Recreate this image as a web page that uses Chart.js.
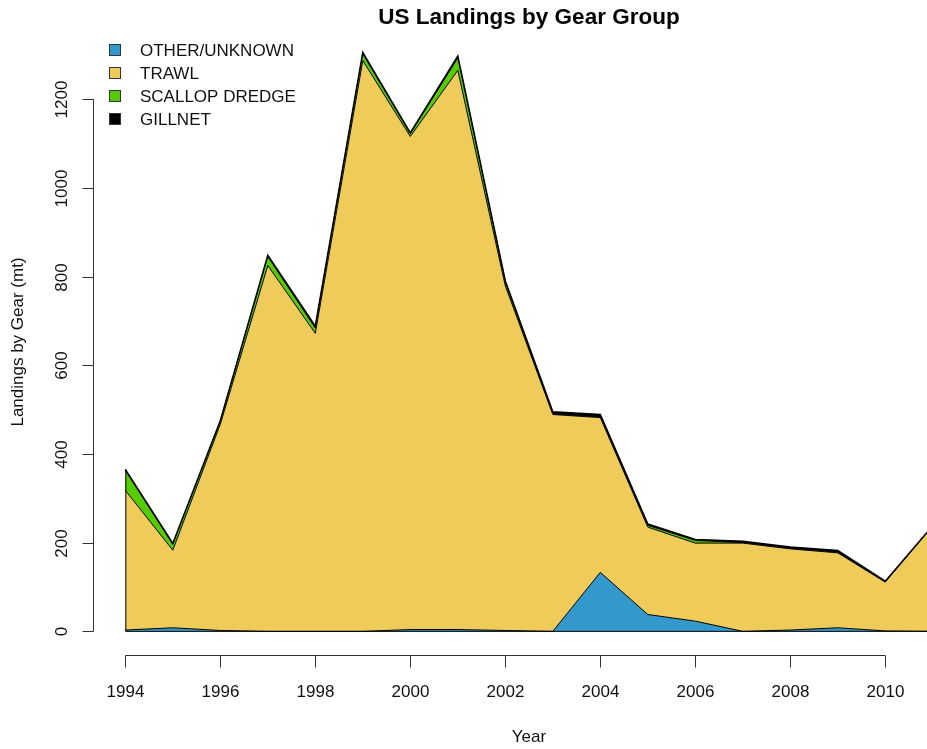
<!DOCTYPE html>
<html>
<head>
<meta charset="utf-8">
<script src="https://cdn.jsdelivr.net/npm/chart.js@4/dist/chart.umd.min.js"></script>
<style>
  html, body { margin: 0; padding: 0; background: #ffffff; }
  #wrap { width: 927px; height: 749px; position: relative; }
</style>
</head>
<body>
<div id="wrap"><canvas id="c" width="927" height="749"></canvas></div>
<script>
// ---- data ----
const years   = [1994,1995,1996,1997,1998,1999,2000,2001,2002,2003,2004,2005,2006,2007,2008,2009,2010,2011];
const other   = [3, 8, 2, 0, 0, 0, 4, 4, 2, 0, 133, 38, 23, 0, 3, 8, 1, 0];
const trawl   = [315, 175, 465, 825, 672, 1287, 1112, 1261, 777, 489, 349, 197, 176, 199, 183, 169, 110, 237];
const scallop = [45, 13, 6, 20, 12, 15, 6, 28, 8, 1, 1, 4, 6, 1, 1, 1, 0, 0];
const gillnet = [2, 2, 2, 3, 4, 3, 2, 4, 3, 5, 6, 3, 2, 3, 3, 4, 2, 1];
const seriesNames = ["OTHER/UNKNOWN", "TRAWL", "SCALLOP DREDGE", "GILLNET"];
const seriesColors = ["#3399CC", "#EFCB5A", "#55CC00", "#000000"];
const xTicks = [1994,1996,1998,2000,2002,2004,2006,2008,2010];
const yTicks = [0,200,400,600,800,1000,1200];

const FONT = '"Liberation Sans", Arial, Helvetica, sans-serif';

function pts(arr){ return years.map((y,i)=>({x:y, y:arr[i]})); }
const seriesData = [other, trawl, scallop, gillnet];

const datasets = seriesData.map((arr, i) => ({
  label: seriesNames[i],
  data: pts(arr),
  backgroundColor: seriesColors[i],
  borderColor: '#000000',
  borderWidth: i === 3 ? 1.6 : 1,
  fill: i === 0 ? 'origin' : '-1',
  pointRadius: 0,
  tension: 0
}));

const rAxes = {
  id: 'rAxes',
  afterDraw(chart) {
    const ctx = chart.ctx;
    const xs = chart.scales.x, ys = chart.scales.y;
    const ca = chart.chartArea;
    ctx.save();
    // baseline and left border of polygons
    ctx.strokeStyle = '#000';
    ctx.lineWidth = 1;
    const x0 = xs.getPixelForValue(years[0]);
    const yb = ys.getPixelForValue(0);
    const total0 = other[0] + trawl[0] + scallop[0] + gillnet[0];
    ctx.beginPath();
    ctx.moveTo(x0 + 0.5, ys.getPixelForValue(total0));
    ctx.lineTo(x0 + 0.5, yb);
    ctx.lineTo(ca.right, yb);
    ctx.stroke();

    ctx.strokeStyle = '#333';
    ctx.fillStyle = '#111';
    ctx.lineWidth = 1;
    // y axis
    const ax = Math.round(ca.left) + 0.5;
    ctx.beginPath();
    ctx.moveTo(ax, ys.getPixelForValue(yTicks[0]));
    ctx.lineTo(ax, ys.getPixelForValue(yTicks[yTicks.length-1]));
    ctx.stroke();
    ctx.font = '17px ' + FONT;
    ctx.textAlign = 'center';
    ctx.textBaseline = 'middle';
    yTicks.forEach(v => {
      const py = Math.round(ys.getPixelForValue(v)) + 0.5;
      ctx.beginPath();
      ctx.moveTo(ax - 11, py);
      ctx.lineTo(ax, py);
      ctx.stroke();
      ctx.save();
      ctx.translate(62, py);
      ctx.rotate(-Math.PI/2);
      ctx.fillText(String(v), 0, 0);
      ctx.restore();
    });
    // x axis
    const ay = Math.round(ca.bottom) + 0.5;
    ctx.beginPath();
    ctx.moveTo(xs.getPixelForValue(xTicks[0]), ay);
    ctx.lineTo(xs.getPixelForValue(xTicks[xTicks.length-1]), ay);
    ctx.stroke();
    xTicks.forEach(v => {
      const px = Math.round(xs.getPixelForValue(v)) + 0.5;
      ctx.beginPath();
      ctx.moveTo(px, ay);
      ctx.lineTo(px, ay + 12);
      ctx.stroke();
      ctx.fillText(String(v), px, 692);
    });
    // axis titles
    ctx.fillText('Year', 529, 737);
    ctx.save();
    ctx.translate(18, 342);
    ctx.rotate(-Math.PI/2);
    ctx.fillText('Landings by Gear (mt)', 0, 0);
    ctx.restore();
    // title
    ctx.font = 'bold 22.5px ' + FONT;
    ctx.fillStyle = '#000';
    ctx.fillText('US Landings by Gear Group', 529, 18);
    // legend
    ctx.font = '17px ' + FONT;
    ctx.textAlign = 'left';
    seriesNames.forEach((n, i) => {
      const cy = 50 + i * 23;
      ctx.fillStyle = seriesColors[i];
      ctx.fillRect(109, cy - 6, 12, 12);
      ctx.strokeStyle = '#333';
      ctx.strokeRect(109.5, cy - 5.5, 11, 11);
      ctx.fillStyle = '#111';
      ctx.fillText(n, 140, cy + 1);
    });
    ctx.restore();
  }
};

new Chart(document.getElementById('c'), {
  type: 'line',
  data: { datasets },
  options: {
    responsive: false,
    animation: false,
    layout: { padding: { left: 93, top: 29.5, right: 0, bottom: 94.5 } },
    plugins: { legend: { display: false }, title: { display: false }, tooltip: { enabled: false } },
    scales: {
      x: { type: 'linear', min: 1993.32, max: 2010.878, display: false },
      y: { stacked: true, min: -52.2, max: 1357.2, display: false }
    },
    elements: { line: { borderJoinStyle: 'miter' } }
  },
  plugins: [rAxes]
});
</script>
</body>
</html>
